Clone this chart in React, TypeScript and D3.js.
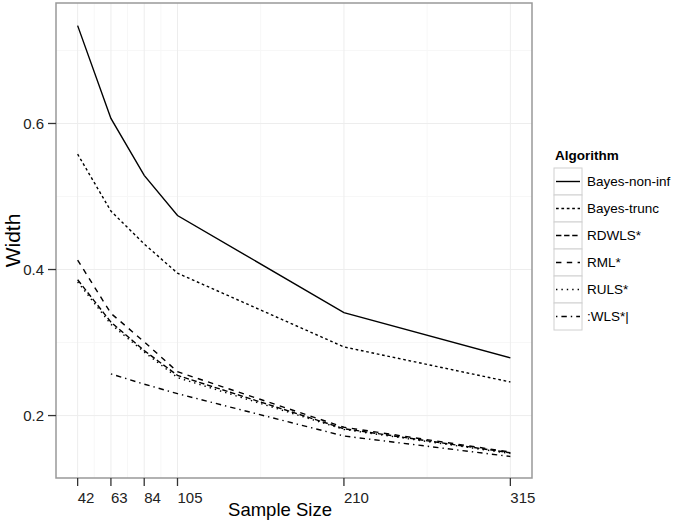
import React from "react"
import * as d3 from "d3"

// sample sizes on the x axis
const sampleSizes = [42, 63, 84, 105, 210, 315]

const algorithms = ["Bayes-non-inf", "Bayes-trunc", "RDWLS*", "RML*", "RULS*", ":WLS*|"]

// widths, one array per algorithm (null = not shown)
const bayesNonInf = [0.734, 0.607, 0.529, 0.474, 0.341, 0.279]
const bayesTrunc = [0.558, 0.48, 0.435, 0.395, 0.294, 0.246]
const rdwls = [0.386, 0.328, 0.289, 0.255, 0.182, 0.149]
const rml = [0.413, 0.34, 0.301, 0.26, 0.184, 0.15]
const ruls = [0.383, 0.325, 0.287, 0.252, 0.181, 0.148]
const wls: (number | null)[] = [null, 0.257, 0.243, 0.23, 0.172, 0.144]

const yTicks = [0.2, 0.4, 0.6]
const yMinor = [0.3, 0.5, 0.7]

const seriesValues = [bayesNonInf, bayesTrunc, rdwls, rml, ruls, wls]

// ggplot default linetypes, scaled by line width
const dashes = ["", "2.7,2.7", "5.4,2.7", "5.4,5.4", "1.4,4", "1.4,4,5.4,4"]

const W = 680
const H = 522
const panel = { left: 56, right: 532, top: 3, bottom: 478 }

export default function App() {
    const x = d3.scaleLinear().domain([28.35, 328.65]).range([panel.left, panel.right])
    const y = d3.scaleLinear().domain([0.1145, 0.765]).range([panel.bottom, panel.top])

    const xMinor = sampleSizes.slice(1).map((s, i) => (s + sampleSizes[i]) / 2)

    const line = d3
        .line<number | null>()
        .defined((d) => d !== null)
        .x((_, i) => x(sampleSizes[i]))
        .y((d) => y(d as number))

    const font = "'Liberation Sans', Arial, sans-serif"
    const legendX = 554
    const legendTop = 168
    const keyW = 28
    const keyH = 27

    return (
        <svg width={W} height={H} style={{ position: "absolute", left: 0, top: 0 }} fontFamily={font}>
            <rect x={0} y={0} width={W} height={H} fill="#fff" />
            {/* minor grid */}
            {xMinor.map((v) => (
                <line key={"xm" + v} x1={x(v)} x2={x(v)} y1={panel.top} y2={panel.bottom} stroke="#f7f7f7" strokeWidth={1} />
            ))}
            {yMinor.map((v) => (
                <line key={"ym" + v} x1={panel.left} x2={panel.right} y1={y(v)} y2={y(v)} stroke="#f7f7f7" strokeWidth={1} />
            ))}
            {/* major grid */}
            {sampleSizes.map((v) => (
                <line key={"xg" + v} x1={x(v)} x2={x(v)} y1={panel.top} y2={panel.bottom} stroke="#ededed" strokeWidth={1} />
            ))}
            {yTicks.map((v) => (
                <line key={"yg" + v} x1={panel.left} x2={panel.right} y1={y(v)} y2={y(v)} stroke="#ededed" strokeWidth={1} />
            ))}

            {/* series */}
            {seriesValues.map((vals, i) => (
                <path
                    key={algorithms[i]}
                    d={line(vals) ?? ""}
                    fill="none"
                    stroke="#000"
                    strokeWidth={1.4}
                    strokeDasharray={dashes[i] || undefined}
                />
            ))}

            <rect
                x={panel.left}
                y={panel.top}
                width={panel.right - panel.left}
                height={panel.bottom - panel.top}
                fill="none"
                stroke="#999"
                strokeWidth={1.5}
            />

            {/* y axis */}
            {yTicks.map((v) => (
                <g key={"yt" + v}>
                    <line x1={panel.left - 8} x2={panel.left} y1={y(v)} y2={y(v)} stroke="#333" strokeWidth={1.3} />
                    <text x={panel.left - 12} y={y(v)} dy="0.35em" textAnchor="end" fontSize={15} fill="#222">
                        {d3.format(".1f")(v)}
                    </text>
                </g>
            ))}
            {/* x axis, labels start at the tick */}
            {sampleSizes.map((v) => (
                <g key={"xt" + v}>
                    <line x1={x(v)} x2={x(v)} y1={panel.bottom} y2={panel.bottom + 8} stroke="#333" strokeWidth={1.3} />
                    <text x={x(v)} y={503} textAnchor="start" fontSize={15} fill="#222">
                        {v}
                    </text>
                </g>
            ))}
            <text x={280} y={516} textAnchor="middle" fontSize={18.5} fill="#000">
                Sample Size
            </text>
            <text
                transform={`translate(20,${(panel.top + panel.bottom) / 2}) rotate(-90)`}
                textAnchor="middle"
                fontSize={21}
                fill="#000"
            >
                Width
            </text>

            {/* legend */}
            <text x={legendX + 1} y={160} fontSize={13.5} fontWeight="bold" fill="#000">
                Algorithm
            </text>
            {algorithms.map((name, i) => {
                const top = legendTop + i * keyH
                return (
                    <g key={"lg" + name}>
                        <rect x={legendX} y={top} width={keyW} height={keyH} fill="#fff" stroke="#d0d0d0" strokeWidth={1} />
                        <line
                            x1={legendX + 2}
                            x2={legendX + keyW - 2}
                            y1={top + keyH / 2}
                            y2={top + keyH / 2}
                            stroke="#000"
                            strokeWidth={1.4}
                            strokeDasharray={dashes[i] || undefined}
                        />
                        <text x={legendX + keyW + 5} y={top + keyH / 2} dy="0.35em" fontSize={13.5} fill="#000">
                            {name}
                        </text>
                    </g>
                )
            })}
        </svg>
    )
}
